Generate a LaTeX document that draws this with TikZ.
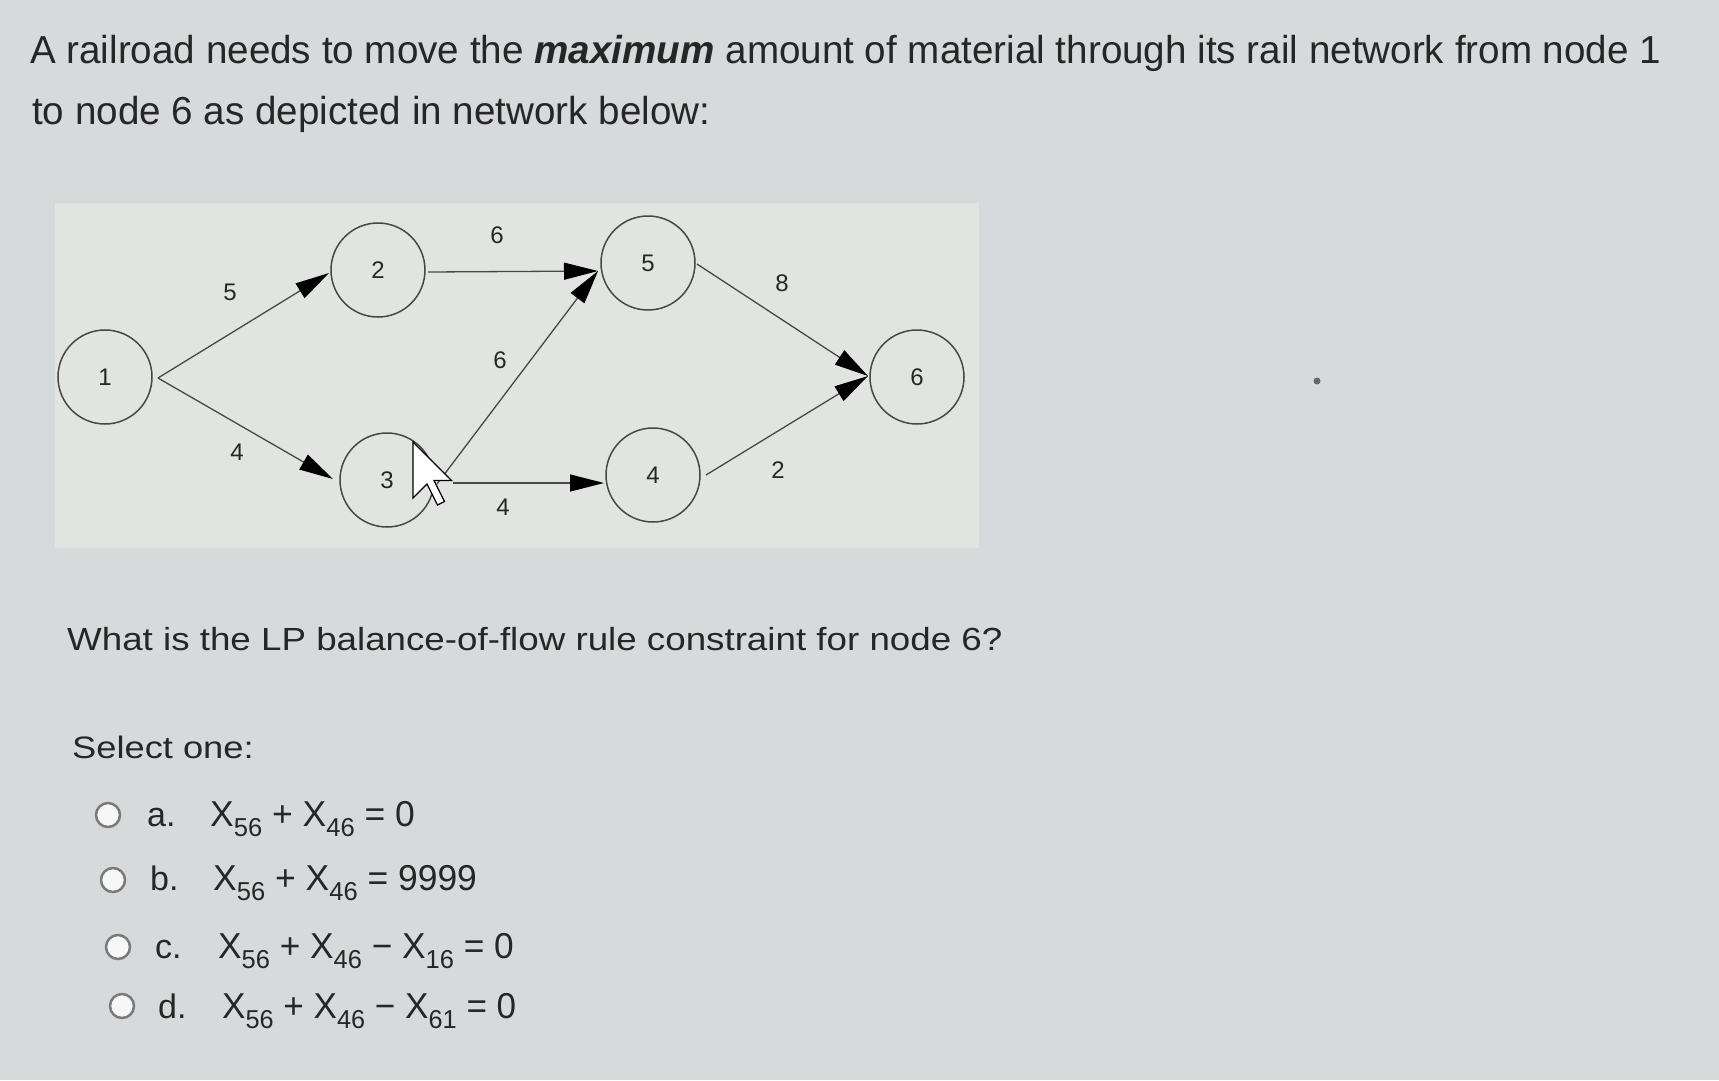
\documentclass[tikz,border=0pt]{standalone}
\usepackage{fontspec}
\setmainfont{Liberation Sans}
\newfontfamily\diagfont{Liberation Sans}
\usetikzlibrary{arrows.meta}
\definecolor{bgc}{HTML}{D6DADA}
\definecolor{panelc}{HTML}{E2E4E2}
\definecolor{txt}{HTML}{262626}
\definecolor{edgec}{HTML}{474747}
\definecolor{radioc}{HTML}{7A7A7A}
\newcommand\sbs[1]{\raisebox{-0.28em}{\scalebox{0.72}{#1}}}
\newcommand\fs[1]{\fontsize{#1pt}{#1pt}\selectfont}
\begin{document}
\begin{tikzpicture}[x=1pt,y=-1pt,
  txtnode/.style={anchor=base west,inner sep=0pt,text=txt},
  netnode/.style={circle,draw=edgec,line width=1.5pt,minimum size=94pt,inner sep=0pt,font=\diagfont\fs{24},text=txt},
  elabel/.style={inner sep=0pt,font=\diagfont\fs{24},text=txt},
  flow/.style={draw=edgec,line width=1.3pt,-{Triangle[length=34pt,width=17pt,fill=black,color=black]}},
  radio/.style={circle,draw=radioc,line width=2.5pt,fill=white!70!panelc,minimum size=24pt,inner sep=0pt}]
\useasboundingbox (0,0) rectangle (1719,1080);
\fill[bgc] (0,0) rectangle (1719,1080);
\fill[panelc] (55,203) rectangle (979,548);
\fill[black!60] (1317,381) circle (3.5pt);
% header text
\node[txtnode,font=\fs{39}] (t1) at (30,63) {\scalebox{0.99}[1]{A railroad needs to move the \textbf{\textit{maximum}} amount of material through its rail network from node 1}};
\node[txtnode,font=\fs{39}] (t2) at (32,124) {\scalebox{0.99}[1]{to node 6 as depicted in network below:}};
% network
\node[netnode] (n1) at (105,377) {1};
\node[netnode] (n2) at (378,270) {2};
\node[netnode] (n3) at (387,480) {3};
\node[netnode] (n5) at (648,263) {5};
\node[netnode] (n4) at (653,475) {4};
\node[netnode] (n6) at (917,377) {6};
\coordinate (s1) at (158,378);
\coordinate (e2) at (329,273);
\coordinate (e3) at (333,479);
\coordinate (s25) at (428,272);
\coordinate (e5) at (598,271);
\coordinate (s35) at (437,484);
\coordinate (s34) at (453,483);
\coordinate (e4) at (604,483);
\coordinate (s56) at (697,264);
\coordinate (s46) at (706,475);
\coordinate (e6) at (868,376);
\draw[flow] (s1) -- (e2);
\draw[flow] (s1) -- (e3);
\draw[flow] (s25) -- (e5);
\draw[flow] (s35) -- (e5);
\draw[flow] (s34) -- (e4);
\draw[flow] (s56) -- (e6);
\draw[flow] (s46) -- (e6);
\node[elabel] (l12) at (230,292) {5};
\node[elabel] (l13) at (237,452) {4};
\node[elabel] (l25) at (497,235) {6};
\node[elabel] (l35) at (500,360) {6};
\node[elabel] (l34) at (503,507) {4};
\node[elabel] (l56) at (782,283) {8};
\node[elabel] (l46) at (778,470) {2};
% mouse cursor
\draw[fill=white,draw=black,line width=1.3pt,line join=miter]
  (413,442) -- (413,498) -- (427,484) -- (437.5,505) -- (444.5,501.5) -- (434,480.5) -- (451.5,480.5) -- cycle;
% question
\node[txtnode,font=\fs{32}] (q) at (67,650) {\scalebox{1.148}[1]{What is the LP balance-of-flow rule constraint for node 6?}};
\node[txtnode,font=\fs{31}] (sel) at (72,758) {\scalebox{1.17}[1]{Select one:}};
% options
\node[radio] (ra) at (108,815) {};
\node[txtnode,font=\fs{34}] (la) at (147,826) {a.};
\node[txtnode,font=\fs{36}] (fa) at (210,826) {\scalebox{0.985}[1]{X\sbs{56} + X\sbs{46} = 0}};
\node[radio] (rb) at (113,880) {};
\node[txtnode,font=\fs{34}] (lb) at (150,890) {b.};
\node[txtnode,font=\fs{36}] (fb) at (213,890) {\scalebox{0.985}[1]{X\sbs{56} + X\sbs{46} = 9999}};
\node[radio] (rc) at (118,947) {};
\node[txtnode,font=\fs{34}] (lc) at (155,958) {c.};
\node[txtnode,font=\fs{36}] (fc) at (218,958) {\scalebox{0.98}[1]{X\sbs{56} + X\sbs{46} − X\sbs{16} = 0}};
\node[radio] (rd) at (122,1006) {};
\node[txtnode,font=\fs{34}] (ld) at (158,1018) {d.};
\node[txtnode,font=\fs{36}] (fd) at (222,1018) {\scalebox{0.975}[1]{X\sbs{56} + X\sbs{46} − X\sbs{61} = 0}};
\end{tikzpicture}
\end{document}
